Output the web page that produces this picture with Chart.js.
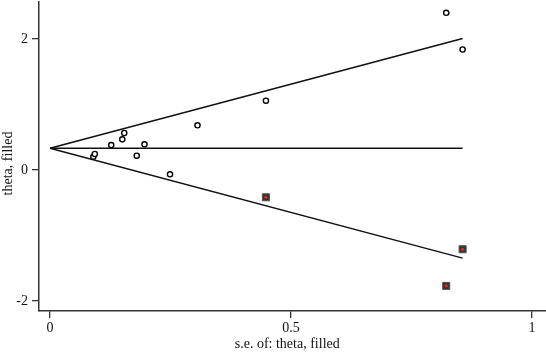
<!DOCTYPE html>
<html>
<head>
<meta charset="utf-8">
<script src="https://cdn.jsdelivr.net/npm/chart.js@4.4.1/dist/chart.umd.min.js"></script>
<style>
  html, body { margin: 0; padding: 0; background: #fff; }
  canvas { display: block; }
</style>
</head>
<body>
<canvas id="funnel" width="546" height="353"></canvas>
<script>
// observed studies
var studySe = [0.090, 0.093, 0.127, 0.150, 0.154, 0.180, 0.196, 0.249, 0.306, 0.448, 0.822, 0.856];
var studyTheta = [0.203, 0.244, 0.380, 0.468, 0.565, 0.218, 0.392, -0.066, 0.682, 1.058, 2.40, 1.84];

// studies filled in by trim and fill
var filledSe = [0.448, 0.822, 0.856];
var filledTheta = [-0.417, -1.77, -1.21];

// pooled estimate and pseudo 95% limits
var lineSe = [0, 0.856];
var pooledTheta = [0.331, 0.331];
var upperTheta = [0.331, 2.008];
var lowerTheta = [0.331, -1.346];

var xTicks = [0, 0.5, 1];
var yTicks = [-2, 0, 2];

function toPoints(xs, ys) {
    return xs.map(function (x, i) {
        return {x: x, y: ys[i]};
    });
}

var axisColor = '#333';
var font = {family: 'Liberation Serif', size: 14};

var lineDefaults = {
    type: 'line',
    borderColor: '#111',
    borderWidth: 1.5,
    pointRadius: 0,
    fill: false,
    tension: 0
};

// drop the label padding chart.js reserves at the scale ends
function noEndPadding(scale) {
    scale.paddingTop = 0;
    scale.paddingBottom = 0;
    scale.paddingLeft = 0;
    scale.paddingRight = 0;
}

var ctx = document.getElementById('funnel');
new Chart(ctx, {
    type: 'scatter',
    data: {
        datasets: [
            {
                label: 'filled dot',
                data: toPoints(filledSe, filledTheta),
                pointStyle: 'circle',
                pointRadius: 1.6,
                backgroundColor: 'rgb(235,40,15)',
                borderWidth: 0,
                order: 0
            },
            {
                label: 'filled',
                data: toPoints(filledSe, filledTheta),
                pointStyle: 'rect',
                pointRadius: 5,
                backgroundColor: '#333',
                borderColor: '#555',
                borderWidth: 1,
                order: 1
            },
            {
                label: 'studies',
                data: toPoints(studySe, studyTheta),
                pointStyle: 'circle',
                pointRadius: 2.6,
                backgroundColor: '#fff',
                borderColor: '#000',
                borderWidth: 1.4,
                order: 2
            },
            Object.assign({label: 'pooled', data: toPoints(lineSe, pooledTheta), order: 3}, lineDefaults),
            Object.assign({label: 'upper', data: toPoints(lineSe, upperTheta), order: 3}, lineDefaults),
            Object.assign({label: 'lower', data: toPoints(lineSe, lowerTheta), order: 3}, lineDefaults)
        ]
    },
    options: {
        responsive: false,
        animation: false,
        devicePixelRatio: 1,
        layout: {
            autoPadding: false,
            padding: {left: 0, top: 2, right: 0, bottom: 0}
        },
        plugins: {
            legend: {display: false},
            tooltip: {enabled: false}
        },
        scales: {
            x: {
                type: 'linear',
                min: -0.0228,
                max: 1.029,
                afterBuildTicks: function (scale) {
                    scale.ticks = xTicks.map(function (v) { return {value: v}; });
                },
                afterFit: function (scale) {
                    scale.height = 42;
                    noEndPadding(scale);
                },
                grid: {
                    drawOnChartArea: false,
                    drawTicks: true,
                    tickLength: 7,
                    color: axisColor,
                    lineWidth: 1.3
                },
                border: {display: true, color: axisColor, width: 1.5},
                ticks: {
                    color: '#111',
                    font: font,
                    padding: 2,
                    maxRotation: 0,
                    callback: function (v) { return String(v); }
                },
                title: {
                    display: true,
                    // trailing spaces nudge the centred title a little left
                    text: 's.e. of: theta, filled   ',
                    color: '#111',
                    font: font,
                    padding: 0
                }
            },
            y: {
                type: 'linear',
                min: -2.153,
                max: 2.565,
                afterBuildTicks: function (scale) {
                    scale.ticks = yTicks.map(function (v) { return {value: v}; });
                },
                afterFit: function (scale) {
                    scale.width = 39;
                    noEndPadding(scale);
                },
                grid: {
                    drawOnChartArea: false,
                    drawTicks: true,
                    tickLength: 7,
                    color: axisColor,
                    lineWidth: 1.3
                },
                border: {display: true, color: axisColor, width: 1.5},
                ticks: {
                    color: '#111',
                    font: font,
                    padding: 4,
                    callback: function (v) { return String(v); }
                },
                title: {
                    display: true,
                    // same trick, pushes the rotated title down a bit
                    text: 'theta, filled    ',
                    color: '#111',
                    font: font,
                    padding: 0
                }
            }
        }
    }
});
</script>
</body>
</html>
